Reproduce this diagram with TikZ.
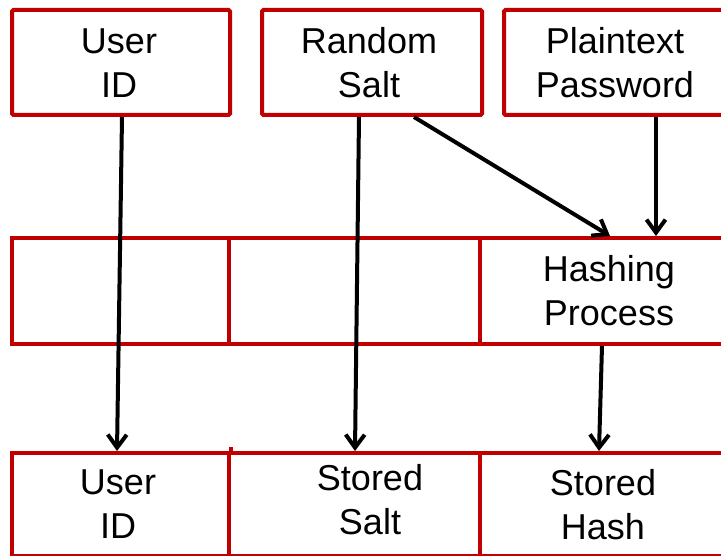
\documentclass[tikz,border=0pt]{standalone}
\usepackage{fontspec}
\setmainfont{Liberation Sans}
\usetikzlibrary{arrows.meta,calc}
\definecolor{boxred}{HTML}{C00000}
\begin{document}
\begin{tikzpicture}[x=1pt,y=-1pt,
  box/.style={draw=boxred, line width=4pt, fill=white, inner sep=0pt, anchor=north west, rounded corners=1.5pt},
  cell/.style={draw=boxred, line width=4pt, inner sep=0pt, anchor=north west},
  lbl/.style={font=\fontsize{36}{44}\selectfont, align=center, inner sep=0pt, text=black},
  conn/.style={draw=black, line width=4pt, -{Straight Barb[length=13pt,width=19pt]}}]
\useasboundingbox (0,0) rectangle (721,556);
\fill[white] (0,0) rectangle (721,556);
\begin{scope}
\clip (0,0) rectangle (721,556);
% top row
\node[box, minimum width=218pt, minimum height=105pt] (t1) at (10,8) {};
\node[box, minimum width=220pt, minimum height=105pt] (t2) at (260,8) {};
\node[box, minimum width=238pt, minimum height=105pt] (t3) at (502,8) {};
\node[lbl] (t1l) at (119,63) {User\\ID};
\node[lbl] (t2l) at (369,63) {Random\\Salt};
\node[lbl] (t3l) at (615,63) {Plaintext\\Password};
% middle row
\node[cell, minimum width=217pt, minimum height=106pt] (m1) at (10,236) {};
\node[cell, minimum width=251pt, minimum height=106pt] (m2) at (227,236) {};
\node[cell, minimum width=262pt, minimum height=106pt] (m3) at (478,236) {};
\node[lbl] (m3l) at (609,291) {Hashing\\Process};
% bottom row
\node[cell, minimum width=217pt, minimum height=103pt] (b1) at (10,451) {};
\node[cell, minimum width=251pt, minimum height=103pt] (b2) at (227,451) {};
\node[cell, minimum width=262pt, minimum height=103pt] (b3) at (478,451) {};
\draw[boxred, line width=4pt] (b1.north east) -- ++(0,-4);
\node[lbl] (b1l) at (118,504) {User\\ID};
\node[lbl] (b2l) at (370,500) {Stored\\Salt};
\node[lbl] (b3l) at (603,505) {Stored\\Hash};
% connectors
\draw[conn] ([xshift=1pt]t1.south) -- ([xshift=-3.5pt]b1.north);
\draw[conn] ([xshift=-13pt]t2.south) -- ([xshift=0.5pt]b2.north);
\draw[conn] ([xshift=42pt]t2.south) -- ([xshift=-1pt]m3.north);
\draw[conn] ([xshift=33pt]t3.south) -- ([xshift=45pt]m3.north);
\draw[conn] ([xshift=-9pt]m3.south) -- ([xshift=-12pt]b3.north);
\end{scope}
\end{tikzpicture}
\end{document}
